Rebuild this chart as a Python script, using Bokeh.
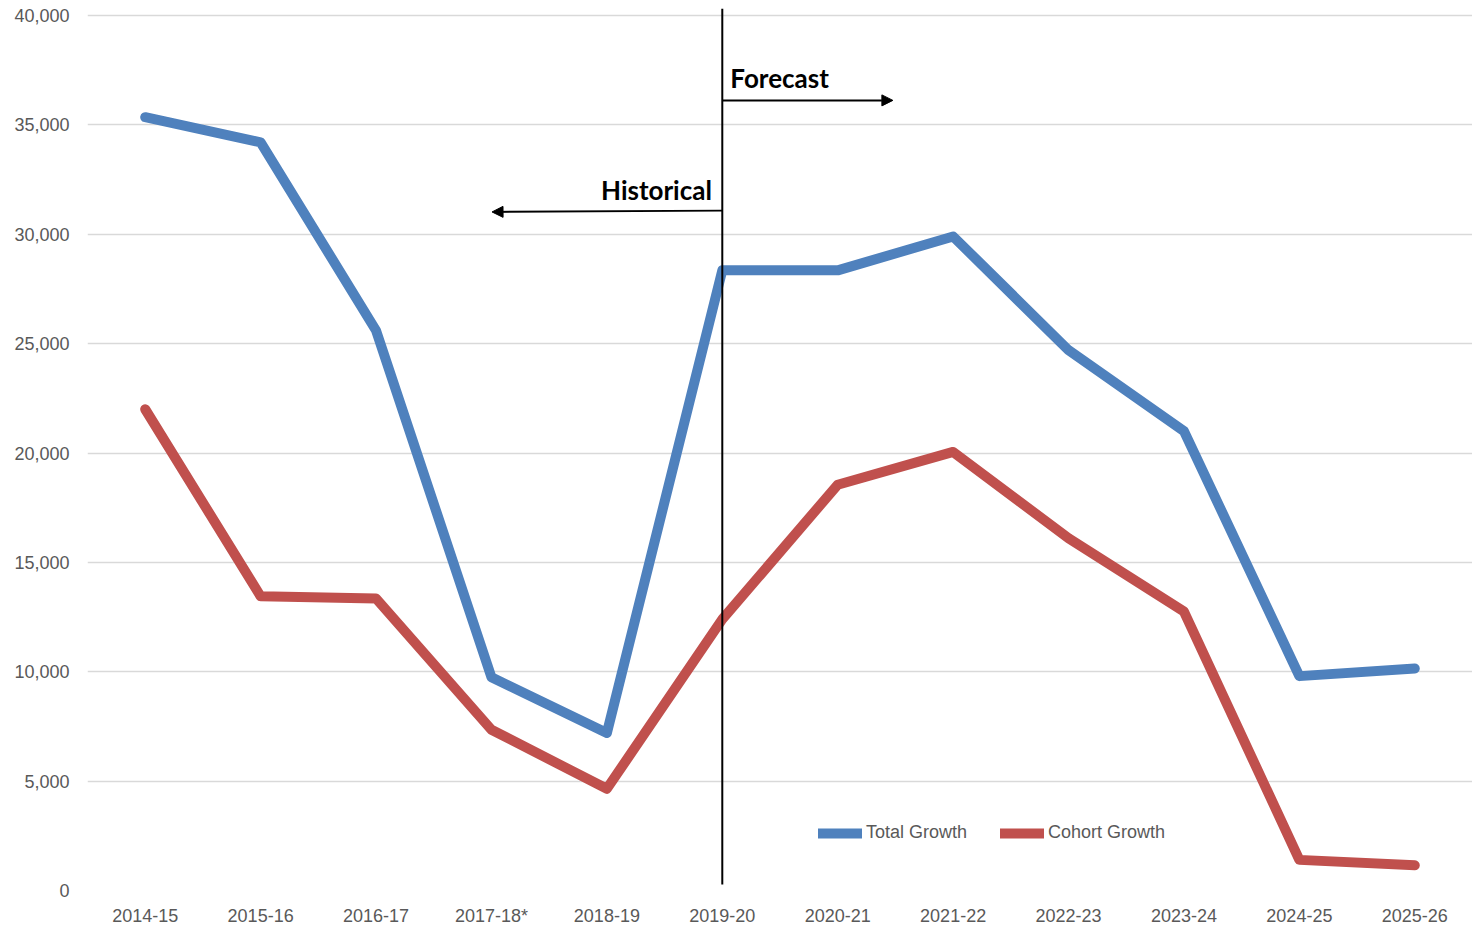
from bokeh.plotting import figure
from bokeh.models import (Range1d, FixedTicker, Arrow, NormalHead, Label, Legend,
                          LegendItem, NumeralTickFormatter, ColumnDataSource)
from bokeh.embed import file_html
from bokeh.resources import INLINE

categories = ["2014-15", "2015-16", "2016-17", "2017-18*", "2018-19", "2019-20",
              "2020-21", "2021-22", "2022-23", "2023-24", "2024-25", "2025-26"]
total_growth = [35350, 34200, 25600, 9750, 7200, 28350, 28350, 29900, 24700, 21000, 9800, 10150]
cohort_growth = [22000, 13450, 13350, 7350, 4650, 12400, 18550, 20050, 16100, 12750, 1400, 1150]
y_ticks = [0, 5000, 10000, 15000, 20000, 25000, 30000, 35000, 40000]

FONT = "Liberation Sans"
GREY = "#595959"

xs = list(range(len(categories)))

p = figure(width=1472, height=928, output_backend="svg", toolbar_location=None,
           x_range=Range1d(-0.5, len(categories) - 0.5), y_range=Range1d(0, 40320),
           min_border_left=87, min_border_right=0, min_border_top=8, min_border_bottom=37)
p.outline_line_color = None
p.background_fill_color = "white"
p.border_fill_color = "white"

p.xgrid.grid_line_color = None
p.ygrid.grid_line_color = "#D9D9D9"
p.ygrid.grid_line_width = 1.5

p.yaxis.ticker = FixedTicker(ticks=y_ticks)
p.yaxis.formatter = NumeralTickFormatter(format="0,0")
p.xaxis.ticker = FixedTicker(ticks=xs)
p.xaxis.major_label_overrides = {i: c for i, c in enumerate(categories)}
for ax in (p.xaxis, p.yaxis):
    ax.axis_line_color = None
    ax.major_tick_line_color = None
    ax.minor_tick_line_color = None
    ax.major_tick_out = 0
    ax.major_tick_in = 0
    ax.minor_tick_out = 0
    ax.minor_tick_in = 0
    ax.major_label_text_font = FONT
    ax.major_label_text_font_size = "18px"
    ax.major_label_text_color = GREY
p.yaxis.major_label_standoff = 18
p.xaxis.major_label_standoff = 15

src = ColumnDataSource(dict(x=xs, total=total_growth, cohort=cohort_growth))
r1 = p.line("x", "total", source=src, line_color="#4F81BD", line_width=10,
            line_cap="round", line_join="round")
r2 = p.line("x", "cohort", source=src, line_color="#C0504D", line_width=10,
            line_cap="round", line_join="round")

# divider at forecast start
xi = categories.index("2019-20")
p.segment(x0=[xi], x1=[xi], y0=[270], y1=[40320], line_color="black", line_width=2)

p.add_layout(Arrow(end=NormalHead(size=11, fill_color="black", line_color="black"),
                   x_start=xi, y_start=36120, x_end=xi + 1.478, y_end=36120,
                   line_color="black", line_width=2))
p.add_layout(Arrow(end=NormalHead(size=11, fill_color="black", line_color="black"),
                   x_start=xi, y_start=31080, x_end=xi - 1.995, y_end=31020,
                   line_color="black", line_width=2))
p.add_layout(Label(x=xi + 0.07, y=36400, text="Forecast", text_font="Lato",
                   text_font_style="bold", text_font_size="26px", text_color="black"))
p.add_layout(Label(x=xi - 0.09, y=31300, text="Historical", text_font="Lato",
                   text_font_style="bold", text_font_size="26px", text_color="black",
                   text_align="right"))

legend = Legend(items=[LegendItem(label="Total Growth", renderers=[r1]),
                       LegendItem(label="Cohort Growth", renderers=[r2])],
                orientation="horizontal", location=(731, 47),
                glyph_width=44, glyph_height=20, label_standoff=4, spacing=33,
                padding=0, margin=0, border_line_color=None,
                background_fill_alpha=0,
                label_text_font=FONT, label_text_font_size="18px",
                label_text_color=GREY)
p.add_layout(legend)

open("out.html", "w").write(file_html(p, INLINE))
